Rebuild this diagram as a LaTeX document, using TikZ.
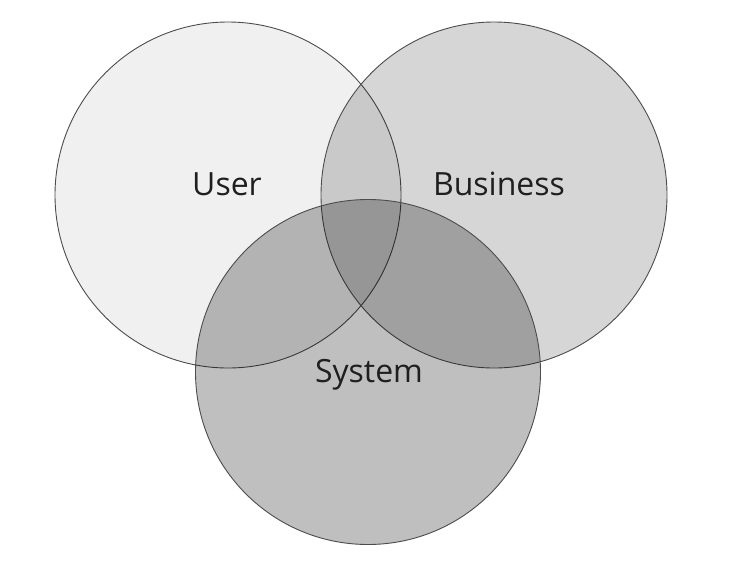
\documentclass[tikz,border=0pt]{standalone}
\usepackage{fontspec}
\setmainfont{Open Sans}
\begin{document}
\begin{tikzpicture}[x=1pt,y=-1pt,
  circ/.style={draw=black!70,line width=0.9pt},
  lbl/.style={font=\fontsize{32}{36}\selectfont,text=black!88}]
\useasboundingbox (0,0) rectangle (740,563);
\fill[white] (0,0) rectangle (740,563);
\node[circ,circle,minimum size=346pt,fill=black,fill opacity=0.06,inner sep=0] (user) at (228,195) {};
\node[circ,circle,minimum size=346pt,fill=black,fill opacity=0.16,inner sep=0] (bus) at (494,195) {};
\node[circ,circle,minimum size=345pt,fill=black,fill opacity=0.25,inner sep=0] (sys) at (368,372) {};
\node[lbl] (tu) at (227,184) {User};
\node[lbl] (tb) at (499,184) {Business};
\node[lbl] (ts) at (369,375) {System};
\end{tikzpicture}
\end{document}
